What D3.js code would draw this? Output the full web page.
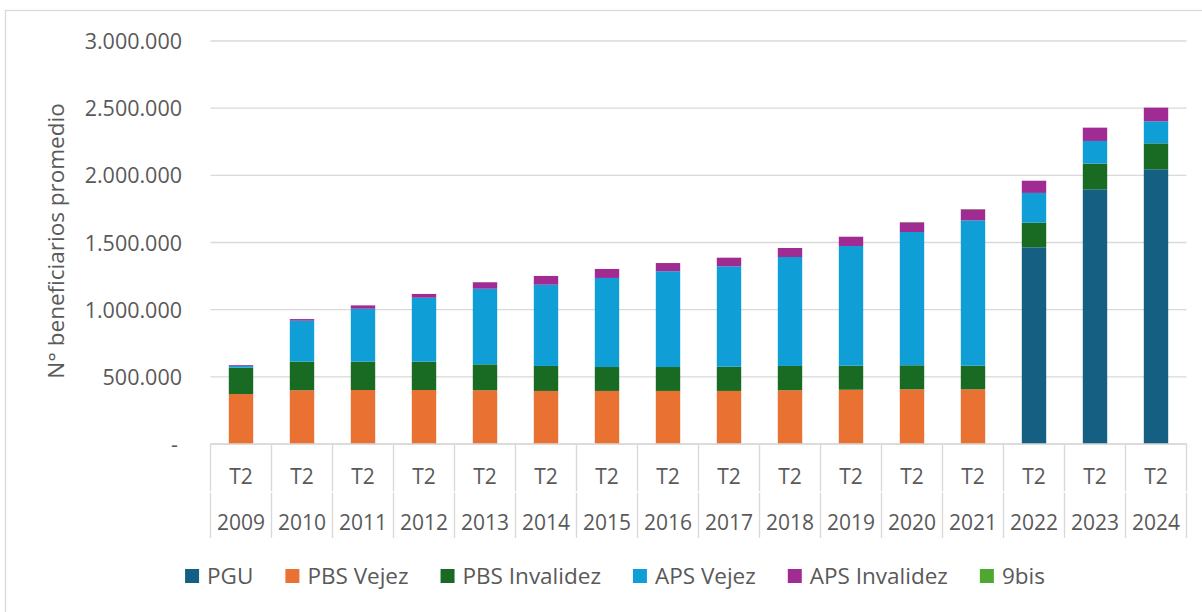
<!DOCTYPE html>
<html>
<head>
<meta charset="utf-8">
<script src="https://cdn.jsdelivr.net/npm/d3@7"></script>
<style>
  html, body { margin: 0; padding: 0; background: #ffffff; }
  svg { display: block; }
  text { font-family: "Open Sans", "Noto Sans", sans-serif; fill: #595959; }
</style>
</head>
<body>
<svg id="chart" width="1202" height="612"></svg>
<script>
// ---- data ----
const years = ["2009","2010","2011","2012","2013","2014","2015","2016","2017","2018","2019","2020","2021","2022","2023","2024"];
const quarters = ["T2","T2","T2","T2","T2","T2","T2","T2","T2","T2","T2","T2","T2","T2","T2","T2"];
const seriesNames = ["PGU","PBS Vejez","PBS Invalidez","APS Vejez","APS Invalidez","9bis"];
const pgu          = [0,0,0,0,0,0,0,0,0,0,0,0,0,1464000,1896000,2045000];
const pbsVejez     = [372000,400000,402000,402000,400000,395000,395000,395000,395000,400000,404000,407000,407000,0,0,0];
const pbsInvalidez = [196000,213000,211000,211000,193000,186000,178000,178000,180000,181000,179000,179000,176000,183000,191000,193000];
const apsVejez     = [13000,305000,394000,476000,563000,605000,663000,713000,748000,811000,891000,992000,1082000,222000,169000,164000];
const apsInvalidez = [6000,12000,25000,28000,48000,65000,67000,61000,64000,67000,69000,72000,82000,91000,99000,102000];
const nueveBis     = [0,0,0,0,0,0,0,0,0,0,0,2000,2000,0,0,0];
const yTicks = [0,500000,1000000,1500000,2000000,2500000,3000000];
const yTitle = "N° beneficiarios promedio";

const colors = ["#156082","#E97132","#196B24","#0F9ED5","#A02B93","#4EA72E"];

(function () {
// ---- build table ----
const seriesData = [pgu, pbsVejez, pbsInvalidez, apsVejez, apsInvalidez, nueveBis];
const table = years.map((yr, i) => {
  const row = { year: yr };
  seriesNames.forEach((s, k) => row[s] = seriesData[k][i]);
  return row;
});
const stacked = d3.stack().keys(seriesNames)(table);

const svg = d3.select("#chart");
const pL = 210.5, pR = 1186.5, pT = 41, pB = 444;

// outer border (only left/top visible in frame)
svg.append("rect").attr("x", 5.5).attr("y", 10.5).attr("width", 1400).attr("height", 900)
  .attr("fill", "none").attr("stroke", "#d9d9d9").attr("stroke-width", 1.3);

const x = d3.scaleBand().domain(years).range([pL, pR]).paddingInner(0).paddingOuter(0);
const y = d3.scaleLinear().domain([0, 3000000]).range([pB, pT]);

const loc = d3.formatLocale({ decimal: ",", thousands: ".", grouping: [3], currency: ["$", ""] });
const fmt = loc.format(",d");

// gridlines
svg.append("g").selectAll("line").data(yTicks).join("line")
  .attr("x1", pL).attr("x2", pR)
  .attr("y1", d => y(d)).attr("y2", d => y(d))
  .attr("stroke", "#d9d9d9").attr("stroke-width", 1.4);

// y axis labels
const yAxis = d3.axisLeft(y).tickValues(yTicks).tickSize(0).tickPadding(0)
  .tickFormat(d => d === 0 ? "-" : fmt(d));
const gy = svg.append("g").attr("transform", `translate(182,0)`).call(yAxis);
gy.select(".domain").remove();
gy.selectAll("text").style("font-size", "21.5px").style("font-family", "'Open Sans', sans-serif")
  .attr("fill", "#595959").attr("dy", "0.35em")
  .attr("x", d => d === 0 ? -4 : 0);

// bars
const barW = x.bandwidth() * 0.4;
svg.append("g").selectAll("g").data(stacked).join("g")
  .attr("fill", (d, i) => colors[i])
  .selectAll("rect").data(d => d).join("rect")
  .attr("x", d => x(d.data.year) + (x.bandwidth() - barW) / 2)
  .attr("width", barW)
  .attr("y", d => y(d[1]))
  .attr("height", d => Math.max(0, y(d[0]) - y(d[1])));

// baseline
svg.append("line").attr("x1", pL).attr("x2", pR).attr("y1", pB).attr("y2", pB)
  .attr("stroke", "#d9d9d9").attr("stroke-width", 1.4);

// category axis (multi-level)
const bounds = years.map(yv => x(yv)).concat([pR]);
const vg = svg.append("g");
vg.selectAll("line.up").data(bounds).join("line").attr("class", "up")
  .attr("x1", d => d).attr("x2", d => d).attr("y1", pB).attr("y2", 491)
  .attr("stroke", "#d9d9d9").attr("stroke-width", 1.4);
vg.selectAll("line.dn").data(bounds).join("line").attr("class", "dn")
  .attr("x1", d => d).attr("x2", d => d).attr("y1", 492.5).attr("y2", 538)
  .attr("stroke", "#d9d9d9").attr("stroke-width", 1.4);

svg.append("g").selectAll("text").data(years).join("text")
  .attr("x", d => x(d) + x.bandwidth() / 2).attr("y", 477).attr("dy", "0.35em")
  .attr("text-anchor", "middle").style("font-size", "21px")
  .text((d, i) => quarters[i]);
svg.append("g").selectAll("text").data(years).join("text")
  .attr("x", d => x(d) + x.bandwidth() / 2).attr("y", 523).attr("dy", "0.35em")
  .attr("text-anchor", "middle").style("font-size", "21px")
  .text(d => d);

// y title
svg.append("text").attr("transform", `translate(64,241) rotate(-90)`)
  .attr("text-anchor", "middle").style("font-size", "22.5px").text(yTitle);

// legend
const lg = svg.append("g");
const items = lg.selectAll("g").data(seriesNames).join("g");
items.append("rect").attr("width", 14).attr("height", 14).attr("y", 569)
  .attr("fill", (d, i) => colors[i]);
items.append("text").attr("x", 22).attr("y", 576).attr("dy", "0.35em")
  .style("font-size", "22.5px").text(d => d);
const widths = [];
items.each(function () { widths.push(22 + d3.select(this).select("text").node().getComputedTextLength()); });
const gap = 32;
const total = d3.sum(widths) + gap * (widths.length - 1);
let cx = 615 - total / 2;
items.each(function (d, i) {
  d3.select(this).attr("transform", `translate(${cx},0)`);
  cx += widths[i] + gap;
});
})();
</script>
</body>
</html>
